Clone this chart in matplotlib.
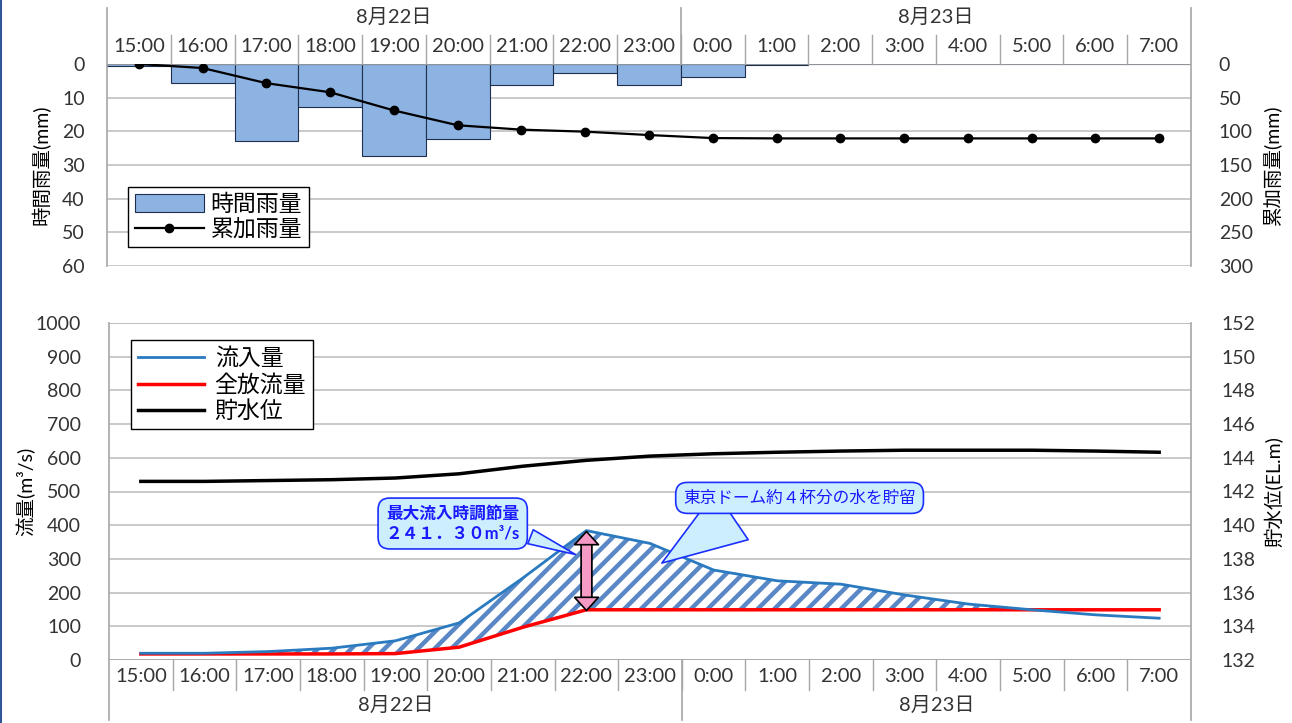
import matplotlib
matplotlib.use("Agg")
import matplotlib.pyplot as plt
import matplotlib.transforms as mtransforms
from matplotlib.lines import Line2D
import numpy as np

plt.rcParams["font.family"] = ["Lato", "Noto Sans CJK JP", "DejaVu Sans"]
plt.rcParams["hatch.linewidth"] = 3.2

# データ
hours = ["15:00", "16:00", "17:00", "18:00", "19:00", "20:00", "21:00", "22:00", "23:00",
         "0:00", "1:00", "2:00", "3:00", "4:00", "5:00", "6:00", "7:00"]
days = ["8月22日", "8月23日"]
day_len = [9, 8]

rain_hourly = [0.7, 5.5, 22.8, 12.9, 27.2, 22.2, 6.3, 2.8, 6.1, 4.0, 0.4,
               0, 0, 0, 0, 0, 0]
rain_cum = [0, 6, 28.5, 42, 69, 91, 97.5, 100.5, 105.5, 110, 110.5,
            110.5, 110.5, 110.5, 110.5, 110.5, 110.5]

inflow = [20, 20, 25, 35, 57, 110, 243, 384, 346, 267, 235, 225, 193, 166, 149, 134, 124]
outflow = [18, 18, 18, 18, 19, 38, 97, 149, 149, 149, 149, 149, 149, 149, 149, 149, 149]
level = [142.6, 142.6, 142.65, 142.7, 142.8, 143.05, 143.5, 143.85, 144.1, 144.24,
         144.33, 144.4, 144.45, 144.45, 144.45, 144.4, 144.33]

GRID = "#c0c0c0"
FRAME = "#a6a6a6"
BLUE = "#2a7ac0"
TXT = "#333333"
PINK = "#f59ac4"
W, H = 1292, 723

x = np.arange(len(hours))
inflow = np.array(inflow)
outflow = np.array(outflow)

fig = plt.figure(figsize=(W / 100, H / 100), dpi=100)
fig.patch.set_facecolor("white")


def px_axes(l, t, r, b):
    return fig.add_axes([l / W, 1 - b / H, (r - l) / W, (b - t) / H])


def style_axes(ax):
    for s in ["top", "bottom", "left", "right"]:
        ax.spines[s].set_visible(False)
    ax.set_xlim(-0.5, len(hours) - 0.5)
    ax.tick_params(axis="both", length=0, labelsize=14, labelcolor=TXT)
    ax.set_axisbelow(True)


def vline(ax, trans, xv, y0, y1, lw=1.2):
    ax.add_line(Line2D([xv, xv], [y0, y1], transform=trans,
                       color=FRAME, lw=lw, clip_on=False))


def category_boxes(ax, y_lab, y_sep, y_day, y_day_sep, y_edge):
    trans = mtransforms.blended_transform_factory(ax.transData, ax.transAxes)
    for i, h in enumerate(hours):
        ax.text(i, y_lab, h, transform=trans, ha="center", va="center",
                fontsize=14.5, color=TXT)
    for i in range(1, len(hours)):
        vline(ax, trans, i - 0.5, y_sep[0], y_sep[1], lw=1)
    start = -0.5
    for k, (d, n) in enumerate(zip(days, day_len)):
        ax.text(start + n / 2, y_day, d, transform=trans, ha="center", va="center",
                fontsize=14.5, color=TXT)
        if k > 0:
            vline(ax, trans, start, y_day_sep[0], y_day_sep[1])
        start += n
    # 左右の枠
    vline(ax, trans, -0.5, y_edge[0], y_edge[1])
    vline(ax, trans, start, y_edge[0], y_edge[1])


# ---------------- 上段: 雨量 ----------------
ax1 = px_axes(107, 64, 1191, 266)
style_axes(ax1)
ax1.set_ylim(60, 0)
ax1.set_yticks(range(0, 61, 10))
ax1.grid(axis="y", color=GRID, lw=1.2)
ax1.set_xticks([])
ax1.tick_params(axis="y", pad=16)
bars = ax1.bar(x, rain_hourly, width=1.0, color="#8db3e2", edgecolor="#1f2f4f",
               linewidth=0.8, label="時間雨量", zorder=2)
ax1.axhline(0, color=FRAME, lw=1.2, zorder=3)
ax1.set_ylabel("時間雨量(mm)", fontsize=14)
ax1.yaxis.set_label_coords(-0.052, 0.5)

ax1r = ax1.twinx()
style_axes(ax1r)
ax1r.set_ylim(300, 0)
ax1r.set_yticks(range(0, 301, 50))
ax1r.tick_params(axis="y", pad=20)
ln_cum, = ax1r.plot(x, rain_cum, color="black", lw=1.6, marker="o", markersize=6,
                    label="累加雨量", zorder=4)
ax1r.set_ylabel("累加雨量(mm)", fontsize=14, rotation=90)
ax1r.yaxis.set_label_coords(1.066, 0.5)

category_boxes(ax1, 1.089, (1.0, 1.144), 1.233, (1.0, 1.277), (0.0, 1.277))

leg1 = ax1r.legend([bars, ln_cum], ["時間雨量", "累加雨量"], loc="upper left",
                   bbox_to_anchor=(128 / W, 1 - 187 / H), bbox_transform=fig.transFigure,
                   borderaxespad=0, fancybox=False, edgecolor="black", framealpha=1,
                   fontsize=16.5, handlelength=3.0, borderpad=0.3, labelspacing=0.15,
                   handletextpad=0.3, handleheight=0.8)
leg1.get_frame().set_linewidth(1.0)

# ---------------- 下段: 流量・貯水位 ----------------
ax2 = px_axes(109, 323, 1191, 660)
style_axes(ax2)
ax2.set_ylim(0, 1000)
ax2.set_yticks(range(0, 1001, 100))
ax2.grid(axis="y", color=GRID, lw=1.2)
ax2.set_xticks([])
ax2.tick_params(axis="y", pad=20)
ax2.axhline(0, color=FRAME, lw=1.2)
ax2.axhline(1000, color=GRID, lw=1.2)

ax2.fill_between(x, outflow, inflow, where=inflow >= outflow, interpolate=True,
                 facecolor="white", edgecolor="#5a88c6", hatch="//", linewidth=0, zorder=2)
ln_in, = ax2.plot(x, inflow, color=BLUE, lw=2, label="流入量", zorder=4)
ln_out, = ax2.plot(x, outflow, color="#ff0000", lw=2.5, label="全放流量", zorder=3)
ax2.set_ylabel("流量(m³/s)", fontsize=14)
ax2.yaxis.set_label_coords(-0.068, 0.5)

ax2r = ax2.twinx()
style_axes(ax2r)
ax2r.set_ylim(132, 152)
ax2r.set_yticks(range(132, 153, 2))
ax2r.tick_params(axis="y", pad=22)
ln_lv, = ax2r.plot(x, level, color="black", lw=2.5, label="貯水位", zorder=4)
ax2r.set_ylabel("貯水位(EL.m)", fontsize=14, rotation=90)
ax2r.yaxis.set_label_coords(1.0675, 0.5)

category_boxes(ax2, -0.05, (0.0, -0.089), -0.134, (0.0, -0.178), (1.0, -0.178))

leg2 = ax2r.legend([ln_in, ln_out, ln_lv], ["流入量", "全放流量", "貯水位"], loc="upper left",
                   bbox_to_anchor=(131 / W, 1 - 340 / H), bbox_transform=fig.transFigure,
                   borderaxespad=0, fancybox=False, edgecolor="black", framealpha=1,
                   fontsize=16.5, handlelength=2.9, borderpad=0.3, labelspacing=0.22,
                   handletextpad=0.45)
leg2.get_frame().set_linewidth(1.0)

# 調節量の両矢印（ピーク時の流入量と放流量の差）
peak = int(np.argmax(inflow))
head_up = [(-1, -1.1), (1, -1.1), (0, 0), (-1, -1.1)]
head_dn = [(-1, 1.1), (1, 1.1), (0, 0), (-1, 1.1)]
shaft_y = [outflow[peak] + 22, inflow[peak] - 22]
ax2.plot([peak, peak], shaft_y, color="black", lw=9, solid_capstyle="butt", zorder=6)
ax2.plot([peak, peak], shaft_y, color=PINK, lw=6.5, solid_capstyle="butt", zorder=6)
ax2.plot([peak], [inflow[peak]], marker=head_up, ms=19, mfc=PINK, mec="black",
         mew=1.2, ls="none", zorder=7)
ax2.plot([peak], [outflow[peak]], marker=head_dn, ms=19, mfc=PINK, mec="black",
         mew=1.2, ls="none", zorder=7)

box = dict(boxstyle="round,pad=0.45,rounding_size=0.7", fc="#cdeffd", ec="#1a2fff", lw=1.2)
ax2r.annotate("最大流入時調節量\n２４１．３０m³/s", xy=(6.87, 310), xytext=(4.9, 405),
              xycoords=ax2.transData, textcoords=ax2.transData,
              ha="center", va="center", fontsize=12, fontweight="bold", color="#1a1aff",
              linespacing=1.3, bbox=box, zorder=7,
              arrowprops=dict(arrowstyle="wedge,tail_width=0.9,shrink_factor=0.5",
                              fc="#cdeffd", ec="#1a2fff", lw=1.2,
                              relpos=(1.0, 0.25)))
ax2r.annotate("東京ドーム約４杯分の水を貯留", xy=(8.15, 283), xytext=(10.35, 481),
              xycoords=ax2.transData, textcoords=ax2.transData,
              ha="center", va="center", fontsize=12, color="#1a1aff",
              bbox=box, zorder=7,
              arrowprops=dict(arrowstyle="wedge,tail_width=3.5,shrink_factor=0.5",
                              fc="#cdeffd", ec="#1a2fff", lw=1.2,
                              relpos=(0.27, 0.0)))

# 左端の枠線
fig.add_artist(Line2D([0.6 / W, 0.6 / W], [0, 1], transform=fig.transFigure,
                      color="#2f5597", lw=1.5))

fig.savefig("out.png", dpi=100, facecolor="white")
